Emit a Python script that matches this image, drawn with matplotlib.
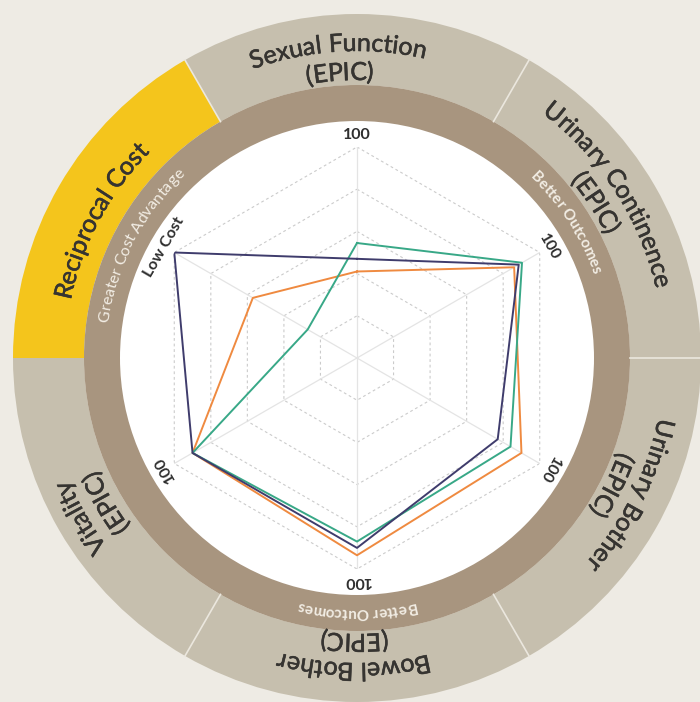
import numpy as np
import matplotlib
matplotlib.use("Agg")
import matplotlib.pyplot as plt
from matplotlib.patches import Wedge, Circle
from matplotlib.font_manager import FontProperties, findfont, get_font
import matplotlib.patheffects as pe

# ---- data -------------------------------------------------------------
categories = ["Sexual Function", "Urinary Continence", "Urinary Bother",
              "Bowel Bother", "Vitality", "Reciprocal Cost"]
segment_titles = [("Sexual Function", "(EPIC)"),
                  ("Urinary Continence", "(EPIC)"),
                  ("Urinary Bother", "(EPIC)"),
                  ("Bowel Bother", "(EPIC)"),
                  ("Vitality", "(EPIC)"),
                  ("Reciprocal Cost", None)]
axis_end_labels = ["100", "100", "100", "100", "100", "Low Cost"]
grid_levels = [20, 40, 60, 80, 100]

series_navy = [47, 88.5, 77, 90, 90, 100]
series_green = [54.5, 90.3, 84, 87, 90, 27]
series_orange = [41, 86, 90, 93.5, 90, 57]

# ---- style ------------------------------------------------------------
FONT = "Lato"
BG = "#eeebe4"
RING_OUT = "#c6bfae"
RING_HI = "#f4c51c"
RING_BROWN = "#a8957f"
SEP = "#ebe7de"
TXT_DARK = "#363431"
TXT_LIGHT = "#f2ede4"
COL_NAVY = "#3f3c6c"
COL_GREEN = "#38a887"
COL_ORANGE = "#ef8a40"

W, H = 700, 702
DPI = 100
CX, CY = 357, H - 358
R_OUT, R_MID, R_WHITE = 344, 273, 237
R_PLOT = 211

fig = plt.figure(figsize=(W / DPI, H / DPI), dpi=DPI)
fig.patch.set_facecolor(BG)
bg = fig.add_axes([0, 0, 1, 1])
bg.set_xlim(0, W)
bg.set_ylim(0, H)
bg.set_aspect("equal")
bg.axis("off")

# outer ring, one wedge per category
seg_angles = [90 - 60 * i for i in range(6)]
for i, a in enumerate(seg_angles):
    col = RING_HI if categories[i] == "Reciprocal Cost" else RING_OUT
    bg.add_patch(Wedge((CX, CY), R_OUT, a - 30, a + 30, width=R_OUT - R_MID,
                       facecolor=col, edgecolor="none"))
for b in [0, 60, 120, 240, 300]:
    t = np.deg2rad(b)
    bg.plot([CX + R_MID * np.cos(t), CX + R_OUT * np.cos(t)],
            [CY + R_MID * np.sin(t), CY + R_OUT * np.sin(t)],
            color=SEP, lw=1.2)

bg.add_patch(Circle((CX, CY), R_MID, facecolor=RING_BROWN, edgecolor="none"))
bg.add_patch(Circle((CX, CY), R_WHITE, facecolor="white", edgecolor="none"))


def glyph_layout(s, size, weight):
    """Ink centre (pixels) of every character and total advance of s."""
    font = get_font(findfont(FontProperties(family=FONT, weight=weight)))
    font.set_size(size, DPI)
    pen = 0.0
    out = []
    for ch in s:
        g = font.load_char(ord(ch))
        adv = g.linearHoriAdvance / 65536
        ink_c = pen + (g.horiBearingX + g.width / 2) / 64 if ch != " " else pen + adv / 2
        out.append(ink_c)
        pen += adv
    return out, pen


def arc_text(s, r_center, center_deg, size, color, weight="normal", stroke=0.0):
    """Write s along a circle, clockwise, glyph tops facing outward."""
    size_px = size * DPI / 72
    r_base = r_center - 0.36 * size_px
    centres, total = glyph_layout(s, size, weight)
    c0 = np.deg2rad(center_deg)
    effects = [pe.withStroke(linewidth=stroke, foreground=color)] if stroke else None
    for ch, xc in zip(s, centres):
        if ch == " ":
            continue
        ang = c0 - (xc - total / 2) / r_base
        bg.text(CX + r_base * np.cos(ang), CY + r_base * np.sin(ang), ch,
                rotation=np.rad2deg(ang) - 90, rotation_mode="anchor",
                ha="center", va="baseline", fontsize=size, family=FONT,
                weight=weight, color=color, path_effects=effects)


title_centers = [93.5, 33, -26.5, -90.5, 210, 152]
title_radii = [(316, 287), (316, 287), (316, 287), (314, 285), (322, 292), (301, None)]
for (l1, l2), ang, (r1, r2) in zip(segment_titles, title_centers, title_radii):
    arc_text(l1, r1, ang, 18, TXT_DARK, stroke=0.4)
    if l2 is not None:
        arc_text(l2, r2, ang, 18, TXT_DARK, stroke=0.4)

arc_text("Greater Cost Advantage", 257, 152.5, 11.5, TXT_LIGHT)
arc_text("Better Outcomes", 256, 33, 11, TXT_LIGHT, weight="bold")
arc_text("Better Outcomes", 256, -90, 11, TXT_LIGHT, weight="bold")

# ---- radar ------------------------------------------------------------
pax = fig.add_axes([(CX - R_PLOT) / W, (CY - R_PLOT) / H, 2 * R_PLOT / W, 2 * R_PLOT / H],
                   projection="polar")
pax.set_ylim(0, 100)
pax.axis("off")

theta = np.deg2rad([90 - 60 * i for i in range(len(categories))])
theta_c = np.append(theta, theta[0])

for lev in grid_levels:
    pax.plot(theta_c, [lev] * len(theta_c), color="#cbcbcb", lw=0.8,
             ls=(0, (2.5, 2.5)))
for t in theta:
    pax.plot([t, t], [0, 100], color="#e4e4e4", lw=0.9)

for vals, col in [(series_orange, COL_ORANGE), (series_green, COL_GREEN),
                  (series_navy, COL_NAVY)]:
    pax.plot(theta_c, np.append(vals, vals[0]), color=col, lw=1.4)

for t, lab in zip(theta, axis_end_labels):
    pax.text(t, 105.5, lab, rotation=np.rad2deg(t) - 90, rotation_mode="anchor",
             ha="center", va="center", fontsize=11.5, family=FONT,
             weight="bold", color="#2f2f2f", clip_on=False)

fig.savefig("out.png", dpi=DPI, facecolor=BG)
